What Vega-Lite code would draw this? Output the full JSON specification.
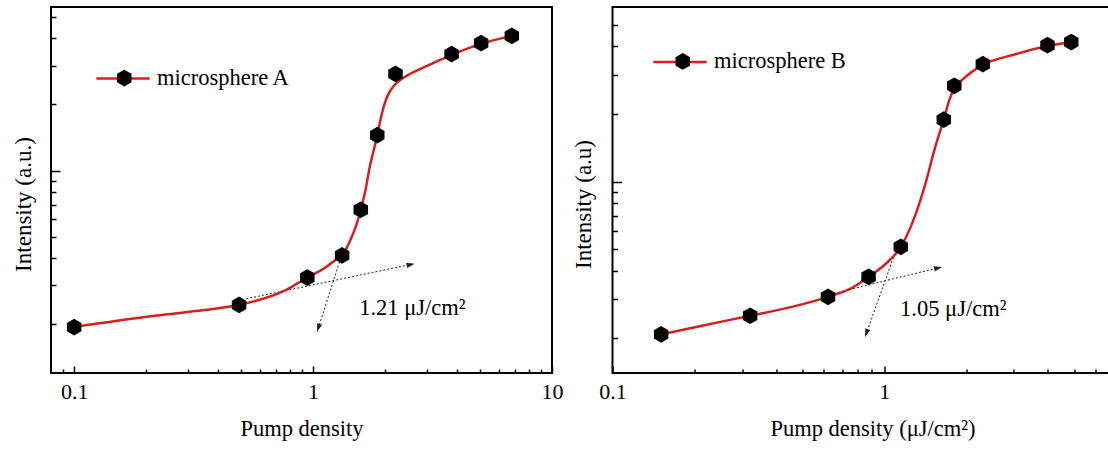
{
  "$schema": "https://vega.github.io/schema/vega-lite/v6.json",
  "padding": {"left": 11, "top": 6, "right": 0, "bottom": 0},
  "background": "white",
  "config": {
    "font": "Liberation Serif",
    "view": {"stroke": "black", "strokeWidth": 2},
    "axis": {"domain": false, "grid": false, "labelFont": "Liberation Serif", "titleFont": "Liberation Serif", "labelColor": "black", "titleColor": "black", "tickColor": "black", "titleFontWeight": "normal", "labelFontSize": 22, "titleFontSize": 22.5, "tickWidth": 1.5, "labelFlush": false, "labelOverlap": false},
    "legend": {"labelFont": "Liberation Serif", "labelFontSize": 22.5, "labelColor": "black", "padding": 0, "title": null}
  },
  "datasets": {
    "ptsA": [
      {"x": 0.1, "y": 194}, {"x": 0.49, "y": 245}, {"x": 0.946, "y": 326}, {"x": 1.323, "y": 411}, {"x": 1.584, "y": 663},
      {"x": 1.856, "y": 1449}, {"x": 2.213, "y": 2751}, {"x": 3.8, "y": 3383}, {"x": 5.05, "y": 3795}, {"x": 6.79, "y": 4095}
    ],
    "curveA": [
      {"x": 0.0994, "y": 194}, {"x": 0.2213, "y": 219}, {"x": 0.35, "y": 232}, {"x": 0.492, "y": 245}, {"x": 0.76, "y": 284},
      {"x": 0.946, "y": 326}, {"x": 1.119, "y": 360}, {"x": 1.232, "y": 390}, {"x": 1.323, "y": 411}, {"x": 1.424, "y": 476},
      {"x": 1.519, "y": 567}, {"x": 1.584, "y": 663}, {"x": 1.658, "y": 817}, {"x": 1.728, "y": 1043}, {"x": 1.803, "y": 1264},
      {"x": 1.856, "y": 1448}, {"x": 1.921, "y": 1731}, {"x": 1.996, "y": 2025}, {"x": 2.076, "y": 2248}, {"x": 2.166, "y": 2409},
      {"x": 2.273, "y": 2538}, {"x": 2.463, "y": 2695}, {"x": 2.757, "y": 2870}, {"x": 3.135, "y": 3055}, {"x": 3.803, "y": 3357},
      {"x": 5.047, "y": 3766}, {"x": 6.788, "y": 4096}
    ],
    "arrowsA": [
      {"arrow": "h", "end": 0, "x": 0.525, "y": 261}, {"arrow": "h", "end": 1, "x": 2.66, "y": 377},
      {"arrow": "v", "end": 0, "x": 1.29, "y": 384}, {"arrow": "v", "end": 1, "x": 1.04, "y": 185}
    ],
    "noteA": [{"x": 1.56, "y": 221, "text": "1.21 μJ/cm²"}],
    "ptsB": [
      {"x": 0.151, "y": 208}, {"x": 0.321, "y": 252}, {"x": 0.621, "y": 306}, {"x": 0.876, "y": 376}, {"x": 1.151, "y": 511},
      {"x": 1.657, "y": 1887}, {"x": 1.811, "y": 2672}, {"x": 2.307, "y": 3336}, {"x": 3.99, "y": 4052}, {"x": 4.88, "y": 4188}
    ],
    "curveB": [
      {"x": 0.151, "y": 208}, {"x": 0.2114, "y": 227}, {"x": 0.321, "y": 252}, {"x": 0.4567, "y": 276}, {"x": 0.621, "y": 306},
      {"x": 0.7553, "y": 334}, {"x": 0.876, "y": 376}, {"x": 1.016, "y": 431}, {"x": 1.151, "y": 511}, {"x": 1.251, "y": 626},
      {"x": 1.346, "y": 796}, {"x": 1.429, "y": 1010}, {"x": 1.516, "y": 1327}, {"x": 1.594, "y": 1629}, {"x": 1.657, "y": 1887},
      {"x": 1.732, "y": 2291}, {"x": 1.811, "y": 2609}, {"x": 1.95, "y": 2861}, {"x": 2.307, "y": 3311}, {"x": 3.039, "y": 3694},
      {"x": 3.99, "y": 4022}, {"x": 4.88, "y": 4191}
    ],
    "arrowsB": [
      {"arrow": "h", "end": 0, "x": 0.6513, "y": 317}, {"arrow": "h", "end": 1, "x": 1.632, "y": 416},
      {"arrow": "v", "end": 0, "x": 1.094, "y": 477}, {"arrow": "v", "end": 1, "x": 0.8505, "y": 203}
    ],
    "noteB": [{"x": 1.144, "y": 251, "text": "1.05 μJ/cm²"}]
  },
  "bounds": "flush",
  "spacing": 60.5,
  "resolve": {"scale": {"x": "independent", "y": "independent", "stroke": "independent", "shape": "independent"}, "legend": {"stroke": "independent", "shape": "independent"}},
  "hconcat": [
    {
      "width": 501,
      "height": 366,
      "encoding": {
        "x": {"field": "x", "type": "quantitative", "scale": {"type": "log", "domain": [0.08, 10]},
          "axis": {"title": "Pump density", "values": [0.09, 0.1, 0.2, 0.3, 0.4, 0.5, 0.6, 0.7, 0.8, 0.9, 1, 2, 3, 4, 5, 6, 7, 8, 9, 10],
            "tickSize": {"condition": {"test": "datum.value == 0.1 || datum.value == 1 || datum.value == 10", "value": -7}, "value": -4},
            "labelExpr": "datum.value == 0.1 ? '0.1' : datum.value == 1 ? '1' : datum.value == 10 ? '10' : ''",
            "labelBaseline": "alphabetic", "labelPadding": 32, "titleY": 62.7, "titleBaseline": "alphabetic"}},
        "y": {"field": "y", "type": "quantitative", "scale": {"type": "log", "domain": [120, 5540]},
          "axis": {"title": "Intensity (a.u.)", "labels": false, "values": [200, 300, 400, 500, 600, 700, 800, 900, 1000, 2000, 3000, 4000, 5000],
            "tickSize": {"condition": {"test": "datum.value == 1000", "value": -9}, "value": -5},
            "titleFontSize": 23, "titleX": -21, "titleY": 197, "titleAngle": 270, "titleBaseline": "alphabetic", "titleAlign": "center"}}
      },
      "layer": [
        {"data": {"name": "arrowsA"}, "mark": {"type": "line", "color": "#222222", "strokeWidth": 1, "strokeDash": [2, 2]},
          "encoding": {"detail": {"field": "arrow", "type": "nominal"}, "order": {"field": "end", "type": "quantitative"}}},
        {"data": {"name": "arrowsA"}, "transform": [{"filter": "datum.end == 1 && datum.arrow == 'h'"}],
          "mark": {"type": "point", "filled": true, "color": "#222222", "opacity": 1, "shape": "M0,0L0.6,1.8L-0.6,1.8Z", "size": 80, "angle": 78.2}, "encoding": {}},
        {"data": {"name": "arrowsA"}, "transform": [{"filter": "datum.end == 1 && datum.arrow == 'v'"}],
          "mark": {"type": "point", "filled": true, "color": "#222222", "opacity": 1, "shape": "M0,0L0.6,1.8L-0.6,1.8Z", "size": 80, "angle": 197.4}, "encoding": {}},
        {"data": {"name": "curveA"}, "mark": {"type": "line", "strokeWidth": 2.5, "interpolate": "monotone"},
          "encoding": {"stroke": {"datum": "A curve", "type": "nominal", "scale": {"range": ["#d42020"]},
            "legend": {"orient": "none", "legendX": 44, "legendY": 43.6, "symbolType": "stroke", "symbolSize": 2841, "symbolStrokeWidth": 2.5, "labelExpr": "''", "zindex": 1}}}},
        {"data": {"name": "ptsA"}, "mark": {"type": "point", "filled": true, "color": "black", "opacity": 1, "size": 280},
          "encoding": {"shape": {"datum": "microsphere A", "type": "nominal", "scale": {"range": ["M0,-1L0.866,-0.5L0.866,0.5L0,1L-0.866,0.5L-0.866,-0.5Z"]},
            "legend": {"orient": "none", "legendX": 62, "legendY": 59.8, "symbolSize": 280, "symbolFillColor": "black", "symbolStrokeColor": "black", "symbolStrokeWidth": 0, "labelOffset": 21.5, "zindex": 2}}}},
        {"data": {"name": "noteA"}, "mark": {"type": "text", "align": "left", "baseline": "alphabetic", "fontSize": 22.5, "font": "Liberation Serif", "color": "black"},
          "encoding": {"text": {"field": "text"}}}
      ]
    },
    {
      "width": 520,
      "height": 366,
      "encoding": {
        "x": {"field": "x", "type": "quantitative", "scale": {"type": "log", "domain": [0.1, 8.2]},
          "axis": {"title": "Pump density (μJ/cm²)", "values": [0.1, 0.2, 0.3, 0.4, 0.5, 0.6, 0.7, 0.8, 0.9, 1, 2, 3, 4, 5, 6, 7, 8],
            "tickSize": {"condition": {"test": "datum.value == 0.1 || datum.value == 1", "value": -7}, "value": -4},
            "labelExpr": "datum.value == 0.1 ? '0.1' : datum.value == 1 ? '1' : ''",
            "labelBaseline": "alphabetic", "labelPadding": 32, "titleY": 62.7, "titleBaseline": "alphabetic"}},
        "y": {"field": "y", "type": "quantitative", "scale": {"type": "log", "domain": [140, 6000]},
          "axis": {"title": "Intensity (a.u)", "labels": false, "values": [200, 300, 400, 500, 600, 700, 800, 900, 1000, 2000, 3000, 4000, 5000],
            "tickSize": {"condition": {"test": "datum.value == 1000", "value": -9}, "value": -5},
            "titleFontSize": 23, "titleX": -22.3, "titleY": 197, "titleAngle": 270, "titleBaseline": "alphabetic", "titleAlign": "center"}}
      },
      "layer": [
        {"data": {"name": "arrowsB"}, "mark": {"type": "line", "color": "#222222", "strokeWidth": 1, "strokeDash": [2, 2]},
          "encoding": {"detail": {"field": "arrow", "type": "nominal"}, "order": {"field": "end", "type": "quantitative"}}},
        {"data": {"name": "arrowsB"}, "transform": [{"filter": "datum.end == 1 && datum.arrow == 'h'"}],
          "mark": {"type": "point", "filled": true, "color": "#222222", "opacity": 1, "shape": "M0,0L0.6,1.8L-0.6,1.8Z", "size": 80, "angle": 76.2}, "encoding": {}},
        {"data": {"name": "arrowsB"}, "transform": [{"filter": "datum.end == 1 && datum.arrow == 'v'"}],
          "mark": {"type": "point", "filled": true, "color": "#222222", "opacity": 1, "shape": "M0,0L0.6,1.8L-0.6,1.8Z", "size": 80, "angle": 199.6}, "encoding": {}},
        {"data": {"name": "curveB"}, "mark": {"type": "line", "strokeWidth": 2.5, "interpolate": "monotone"},
          "encoding": {"stroke": {"datum": "B curve", "type": "nominal", "scale": {"range": ["#d42020"]},
            "legend": {"orient": "none", "legendX": 39.5, "legendY": 27, "symbolType": "stroke", "symbolSize": 2841, "symbolStrokeWidth": 2.5, "labelExpr": "''", "zindex": 1}}}},
        {"data": {"name": "ptsB"}, "mark": {"type": "point", "filled": true, "color": "black", "opacity": 1, "size": 280},
          "encoding": {"shape": {"datum": "microsphere B", "type": "nominal", "scale": {"range": ["M0,-1L0.866,-0.5L0.866,0.5L0,1L-0.866,0.5L-0.866,-0.5Z"]},
            "legend": {"orient": "none", "legendX": 59, "legendY": 43.2, "symbolSize": 280, "symbolFillColor": "black", "symbolStrokeColor": "black", "symbolStrokeWidth": 0, "labelOffset": 20, "zindex": 2}}}},
        {"data": {"name": "noteB"}, "mark": {"type": "text", "align": "left", "baseline": "alphabetic", "fontSize": 22.5, "font": "Liberation Serif", "color": "black"},
          "encoding": {"text": {"field": "text"}}}
      ]
    }
  ]
}
